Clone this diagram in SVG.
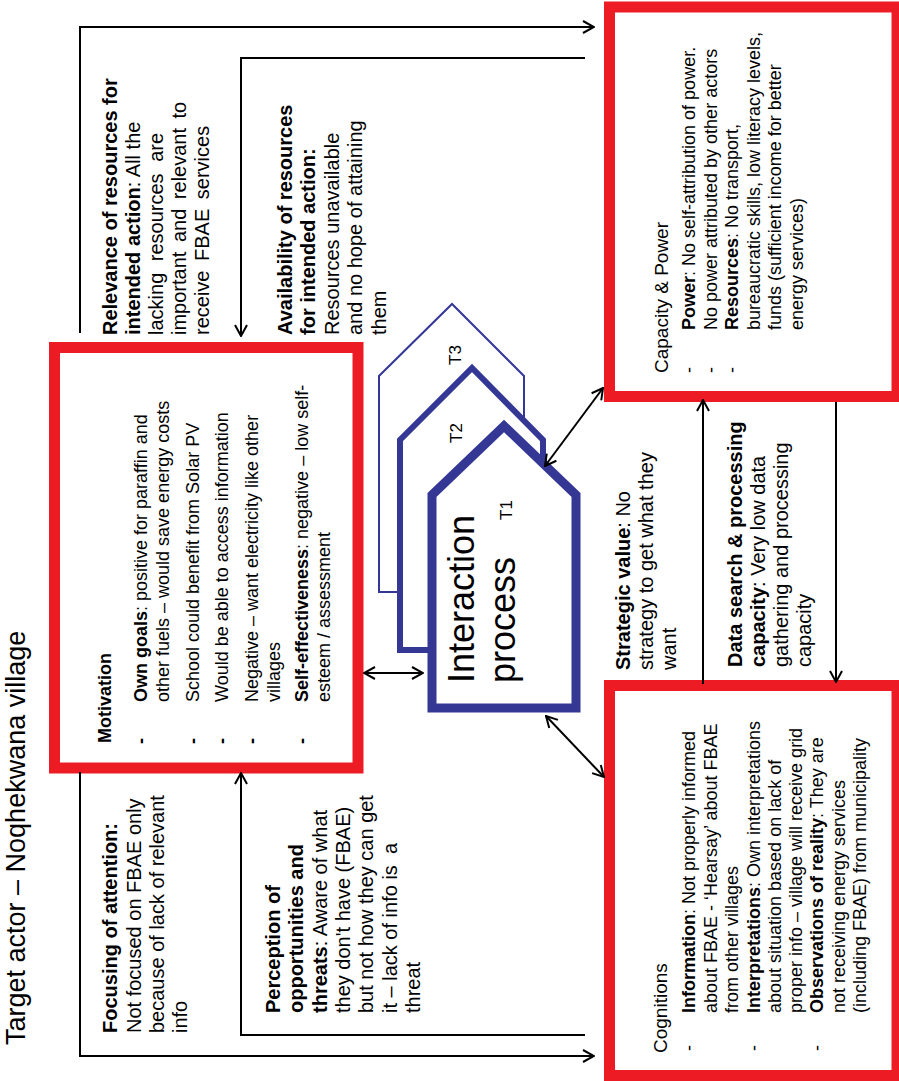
<svg xmlns="http://www.w3.org/2000/svg" width="899" height="1081" viewBox="0 0 899 1081">
<style>
.box{fill:#fff;stroke:#ED1C24;stroke-width:11}
.pent{fill:#fff;stroke:#343894;stroke-linejoin:miter}
.t{font-family:"Liberation Sans",Arial,sans-serif;font-size:18px;fill:#000}
.f{font-size:20px}
.h{font-size:19px}
.b{font-weight:bold}
.conn{fill:none;stroke:#000;stroke-width:2}
</style>
<defs>
<marker id="arr" viewBox="0 0 14 14" refX="13" refY="7" markerWidth="14" markerHeight="14" markerUnits="userSpaceOnUse" orient="auto-start-reverse">
<path d="M2,1 L13,7 L2,13" fill="none" stroke="#000" stroke-width="2"/>
</marker>
</defs>
<rect width="899" height="1081" fill="#fff"/>

<g id="title">
<g transform="translate(0,1081) rotate(-90)">
<text class="t" style="font-size:27px" x="36" y="25">Target actor – Noqhekwana village</text>
</g>
</g>

<g id="motivation">
<rect class="box" x="54.5" y="347.5" width="303.5" height="420.5"/>
<g transform="translate(0,1081) rotate(-90)">
<text class="t b" x="338" y="111">Motivation</text>
<text class="t b" x="337" y="147">-</text>
<text class="t" x="379" y="147"><tspan class="b">Own goals</tspan>: positive for paraffin and</text>
<text class="t" x="379" y="169">other fuels – would save energy costs</text>
<text class="t b" x="337" y="199">-</text>
<text class="t" x="379" y="199">School could benefit from Solar PV</text>
<text class="t b" x="337" y="228">-</text>
<text class="t" x="379" y="228">Would be able to access information</text>
<text class="t b" x="337" y="258">-</text>
<text class="t" x="379" y="258">Negative – want electricity like other</text>
<text class="t" x="379" y="280">villages</text>
<text class="t b" x="337" y="308">-</text>
<text class="t" x="379" y="308"><tspan class="b">Self-effectiveness</tspan>: negative – low self-</text>
<text class="t" x="379" y="330">esteem / assessment</text>
</g>
</g>

<g id="capacity-power">
<rect class="box" x="609.5" y="7" width="287.5" height="389.5"/>
<g transform="translate(0,1081) rotate(-90)">
<text class="t h" x="708" y="668">Capacity &amp; Power</text>
<text class="t" x="708" y="695">-</text>
<text class="t" x="751" y="695"><tspan class="b">Power</tspan>: No self-attribution of power.</text>
<text class="t" x="708" y="717">-</text>
<text class="t" x="751" y="717">No power attributed by other actors</text>
<text class="t" x="708" y="738">-</text>
<text class="t" x="751" y="738"><tspan class="b">Resources</tspan>: No transport,</text>
<text class="t" x="751" y="760">bureaucratic skills, low literacy levels,</text>
<text class="t" x="751" y="781">funds (sufficient income for better</text>
<text class="t" x="751" y="803">energy services)</text>
</g>
</g>

<g id="cognitions">
<rect class="box" x="609.5" y="685.5" width="287.5" height="390"/>
<g transform="translate(0,1081) rotate(-90)">
<text class="t h" x="28" y="667">Cognitions</text>
<text class="t" x="30" y="695">-</text>
<text class="t" x="68" y="695"><tspan class="b">Information</tspan>: Not properly informed</text>
<text class="t" x="68" y="717">about FBAE - ‘Hearsay’ about FBAE</text>
<text class="t" x="68" y="738">from other villages</text>
<text class="t" x="30" y="760">-</text>
<text class="t" x="68" y="760"><tspan class="b">Interpretations</tspan>: Own interpretations</text>
<text class="t" x="68" y="781">about situation based on lack of</text>
<text class="t" x="68" y="802">proper info – village will receive grid</text>
<text class="t" x="30" y="823">-</text>
<text class="t" x="68" y="823"><tspan class="b">Observations of reality</tspan>: They are</text>
<text class="t" x="68" y="845">not receiving energy services</text>
<text class="t" x="68" y="866">(including FBAE) from municipality</text>
</g>
</g>

<g id="interaction-t3">
<polygon class="pent" stroke-width="2" points="379,592 379,376 452,304 524,376 524,592"/>
<g transform="translate(0,1081) rotate(-90)">
<text class="t" style="font-size:17px" x="716" y="461">T3</text>
</g>
</g>
<g id="interaction-t2">
<polygon class="pent" stroke-width="6" points="400,650 400,440 472,368 543,440 543,650"/>
<g transform="translate(0,1081) rotate(-90)">
<text class="t" style="font-size:17px" x="638" y="462">T2</text>
</g>
</g>
<g id="interaction-t1">
<polygon class="pent" stroke-width="9" points="432,708 432,495 504,426 576,495 576,708"/>
<g transform="translate(0,1081) rotate(-90)">
<text class="t" style="font-size:36px" x="398" y="474">Interaction</text>
<text class="t" style="font-size:36px" x="398" y="515">process</text>
<text class="t" style="font-size:17px" x="561" y="512">T1</text>
</g>
</g>

<g id="labels">
<g transform="translate(0,1081) rotate(-90)">
<g id="focusing">
<text class="t f b" x="48" y="117">Focusing of attention:</text>
<text class="t f" x="48" y="141">Not focused on FBAE only</text>
<text class="t f" x="48" y="164">because of lack of relevant</text>
<text class="t f" x="48" y="187">info</text>
</g>
<g id="perception">
<text class="t f b" x="68" y="280">Perception of</text>
<text class="t f b" x="68" y="303">opportunities and</text>
<text class="t f" x="68" y="327"><tspan class="b">threats</tspan>: Aware of what</text>
<text class="t f" x="68" y="350">they don't have (FBAE)</text>
<text class="t f" x="68" y="373">but not how they can get</text>
<text class="t f" x="68" y="397" style="white-space:pre">it – lack of info is  a</text>
<text class="t f" x="68" y="420">threat</text>
</g>
<g id="relevance">
<text class="t f b" x="746" y="117">Relevance of resources for</text>
<text class="t f" x="746" y="140"><tspan class="b">intended action</tspan>: All the</text>
<text class="t f" x="746" y="163" word-spacing="6">lacking resources are</text>
<text class="t f" x="746" y="186" word-spacing="4">important and relevant to</text>
<text class="t f" x="746" y="209" word-spacing="4">receive FBAE services</text>
</g>
<g id="availability">
<text class="t f b" x="746" y="292">Availability of resources</text>
<text class="t f b" x="746" y="315">for intended action:</text>
<text class="t f" x="746" y="339">Resources unavailable</text>
<text class="t f" x="746" y="362">and no hope of attaining</text>
<text class="t f" x="746" y="386">them</text>
</g>
<g id="strategic">
<text class="t f" x="411" y="630"><tspan class="b">Strategic value</tspan>: No</text>
<text class="t f" x="411" y="653">strategy to get what they</text>
<text class="t f" x="411" y="676">want</text>
</g>
<g id="datasearch">
<text class="t f b" x="414" y="742">Data search &amp; processing</text>
<text class="t f" x="414" y="765"><tspan class="b">capacity</tspan>: Very low data</text>
<text class="t f" x="414" y="788">gathering and processing</text>
<text class="t f" x="414" y="811">capacity</text>
</g>
</g>
</g>

<g id="connectors">
<path class="conn" d="M80,333 L80,27 L594,27" marker-end="url(#arr)"/>
<path class="conn" d="M585,58 L241,58 L241,336" marker-end="url(#arr)"/>
<path class="conn" d="M80,772 L80,1056 L594,1056" marker-end="url(#arr)"/>
<path class="conn" d="M585,1035 L241,1035 L241,773" marker-end="url(#arr)"/>
<path class="conn" d="M836,402 L836,682" marker-end="url(#arr)"/>
<path class="conn" d="M703,684 L703,400" marker-end="url(#arr)"/>
<path class="conn" d="M364,673 L423,673" marker-start="url(#arr)" marker-end="url(#arr)"/>
<path class="conn" d="M545,466 L603,388" marker-start="url(#arr)" marker-end="url(#arr)"/>
<path class="conn" d="M546,716 L604,777" marker-start="url(#arr)" marker-end="url(#arr)"/>
</g>
</svg>
